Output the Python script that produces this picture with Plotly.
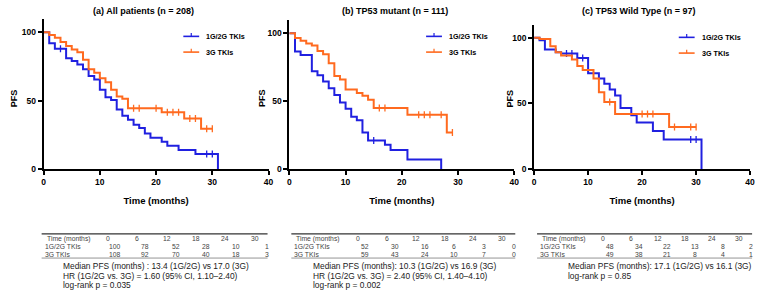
import numpy as np
import plotly.graph_objects as go

W, H = 767, 295

# ---------------- data ----------------
titles = ["(a) All patients (n = 208)", "(b) TP53 mutant (n = 111)", "(c) TP53 Wild Type (n = 97)"]
group_names = ["1G/2G TKIs", "3G TKIs"]

# Panel (a)
a_t_12 = [0, 1, 2, 4, 5, 6, 7, 8, 9, 10, 11, 12, 13, 14, 15, 16, 17, 18, 19, 21, 22, 24, 27, 31]
a_s_12 = [100, 92, 88, 81, 79, 76.5, 73, 68, 65.5, 58, 52.5, 50.5, 43.5, 39, 36, 32.5, 30, 26, 23, 20, 17, 14, 11, 0]
a_c_12 = [3, 29, 30]
a_t_3 = [0, 1, 2, 3, 4, 5, 6, 7, 8, 9, 10, 11, 12, 13, 14, 15, 21, 25, 28, 30]
a_s_3 = [100, 98, 96, 93, 90, 87.5, 85.5, 80, 73, 70.5, 66.5, 63.5, 58, 53, 51.5, 44.5, 41.5, 37, 29.5, 29.5]
a_c_3 = [16, 17, 20, 22, 23, 24, 26, 27, 29, 30]

# Panel (b)
b_t_12 = [0, 1, 2, 4, 5, 6, 7, 8, 9, 10, 11, 12, 13, 14, 17, 18, 21, 27]
b_s_12 = [100, 86.5, 84, 72, 69, 64.5, 59.5, 54.5, 49, 44.5, 38.5, 36, 27, 21, 18, 14, 7, 0]
b_c_12 = [15]
b_t_3 = [0, 1, 2, 3, 4, 5, 6, 7, 8, 9, 10, 12, 13, 14, 15, 21, 28, 29]
b_s_3 = [100, 96.5, 94.5, 92.5, 91, 87, 84.5, 78, 68.5, 66, 58.5, 56, 54, 51, 45, 40, 27, 27]
b_c_3 = [16, 17, 23, 24, 25, 27, 29]

# Panel (c)
c_t_12 = [0, 1, 2, 4, 5, 8, 10, 12, 13, 14, 15, 16, 18, 19, 22, 24, 31]
c_s_12 = [100, 98, 91, 89, 88, 84.5, 73, 69, 65, 60.5, 56, 46.5, 41, 35.5, 29, 22.5, 0]
c_c_12 = [6, 7, 9, 29, 30]
c_t_3 = [0, 1, 3, 4, 5, 7, 8, 9, 11, 12, 13, 15, 25, 30]
c_s_3 = [100, 99, 93.5, 89, 86.5, 83.5, 78.5, 75.5, 69, 58.5, 51, 42, 32, 32]
c_c_3 = [14, 20, 21, 22, 26, 29, 30]

# Numbers at risk
risk_times = [0, 6, 12, 18, 24, 30]
a_risk_12 = [100, 78, 52, 28, 10, 1]
a_risk_3 = [108, 92, 70, 40, 18, 3]
b_risk_12 = [52, 30, 16, 6, 3, 0]
b_risk_3 = [59, 43, 24, 10, 7, 0]
c_risk_12 = [48, 34, 22, 13, 8, 2]
c_risk_3 = [49, 38, 21, 8, 4, 1]

stats = [
    ["Median PFS (months) : 13.4 (1G/2G) vs 17.0 (3G)",
     "HR (1G/2G vs. 3G) = 1.60 (95% CI, 1.10\u20132.40)",
     "log-rank p = 0.035"],
    ["Median PFS (months): 10.3 (1G/2G) vs 16.9 (3G)",
     "HR (1G/2G vs. 3G) = 2.40 (95% CI, 1.40\u20134.10)",
     "log-rank p = 0.002"],
    ["Median PFS (months): 17.1 (1G/2G) vs 16.1 (3G)",
     "log-rank p = 0.85"],
]

x_ticks = [0, 10, 20, 30, 40]
y_ticks = [0, 50, 100]

# ---------------- styling ----------------
BLUE = "#2020e0"
ORANGE = "#ff6a1f"
colors = [BLUE, ORANGE]
FONT = "Liberation Sans, Arial, sans-serif"

panels = [
    dict(t=[a_t_12, a_t_3], s=[a_s_12, a_s_3], c=[a_c_12, a_c_3], risk=[a_risk_12, a_risk_3]),
    dict(t=[b_t_12, b_t_3], s=[b_s_12, b_s_3], c=[b_c_12, b_c_3], risk=[b_risk_12, b_risk_3]),
    dict(t=[c_t_12, c_t_3], s=[c_s_12, c_s_3], c=[c_c_12, c_c_3], risk=[c_risk_12, c_risk_3]),
]

# pixel geometry
geo = [
    dict(x0=42, x1=269, ytop=19, ybot=172, title_x=143, pfs_x=12, tl=40, tr=268, st_x=60, leg_x=183, leg_y=37),
    dict(x0=290, x1=517, ytop=20, ybot=172, title_x=397, pfs_x=263, tl=292, tr=518, st_x=312, leg_x=428, leg_y=37),
    dict(x0=537, x1=755, ytop=25, ybot=172, title_x=643, pfs_x=513, tl=540, tr=757, st_x=569, leg_x=683, leg_y=38),
]

def px(xp):
    return xp / W

def py(yp):
    return 1 - yp / H

def step_value(times, surv, t):
    idx = np.searchsorted(np.asarray(times), t, side="right") - 1
    return surv[idx]

fig = go.Figure()
annotations = []
shapes = []
layout = {}

def ann(text, x, y, xanchor="left", size=7, color="black", weight="normal", **kw):
    d = dict(text=text, x=px(x), y=py(y), xref="paper", yref="paper", showarrow=False,
             xanchor=xanchor, yanchor="middle",
             font=dict(family=FONT, size=size, color=color, weight=weight))
    d.update(kw)
    annotations.append(d)

for i, (p, g) in enumerate(zip(panels, geo)):
    k = "" if i == 0 else str(i + 1)
    xa, ya = "x" + k, "y" + k
    for j in range(2):
        fig.add_trace(go.Scatter(
            x=p["t"][j], y=p["s"][j], mode="lines", line=dict(color=colors[j], width=2, shape="hv"),
            xaxis=xa, yaxis=ya, showlegend=False, hoverinfo="skip"))
        cy = [step_value(p["t"][j], p["s"][j], ct) for ct in p["c"][j]]
        fig.add_trace(go.Scatter(
            x=p["c"][j], y=cy, mode="markers",
            marker=dict(symbol="line-ns", size=5, line=dict(color=colors[j], width=1.3)),
            xaxis=xa, yaxis=ya, showlegend=False, hoverinfo="skip"))

    layout["xaxis" + k] = dict(
        domain=[px(g["x0"]), px(g["x1"])], range=[0, 40], anchor=ya,
        tickvals=x_ticks, showline=True, linecolor="black", linewidth=2,
        ticks="outside", ticklen=4, tickwidth=2, tickcolor="black",
        showgrid=False, zeroline=False,
        tickfont=dict(family=FONT, size=8.5, color="black", weight="bold"),
        title=dict(text="Time (months)", font=dict(family=FONT, size=9.5, color="black", weight="bold"),
                   standoff=11),
        fixedrange=True)
    layout["yaxis" + k] = dict(
        domain=[py(g["ybot"]), py(g["ytop"])], range=[0, 110], anchor=xa,
        tickvals=y_ticks, showline=True, linecolor="black", linewidth=2,
        ticks="outside", ticklen=4, tickwidth=2, tickcolor="black",
        showgrid=False, zeroline=False,
        tickfont=dict(family=FONT, size=8.5, color="black", weight="bold"),
        fixedrange=True)

    # legend (key line with censor tick + label)
    for j in range(2):
        ly = g["leg_y"] + 16 * j
        lx = g["leg_x"]
        shapes.append(dict(type="line", xref="paper", yref="paper", x0=px(lx), x1=px(lx + 16),
                           y0=py(ly), y1=py(ly), line=dict(color=colors[j], width=1.6)))
        shapes.append(dict(type="line", xref="paper", yref="paper", x0=px(lx + 8), x1=px(lx + 8),
                           y0=py(ly), y1=py(ly - 3.5), line=dict(color=colors[j], width=1.2)))
        ann(group_names[j], lx + 21, ly, size=7.2, weight="bold")

    # title and y title
    ann(titles[i], g["title_x"], 11, xanchor="center", size=9, weight="bold")
    ann("PFS", g["pfs_x"], 100, xanchor="center", size=9, weight="bold", textangle=-90)

    # risk table
    tl, tr = g["tl"], g["tr"]
    y_line_top, y_head, y_r1, y_r2, y_line_bot = 238, 243, 251, 258.5, 262.5
    shapes.append(dict(type="line", xref="paper", yref="paper", x0=px(tl), x1=px(tr),
                       y0=py(y_line_top), y1=py(y_line_top), line=dict(color="#333333", width=1.2)))
    shapes.append(dict(type="line", xref="paper", yref="paper", x0=px(tl), x1=px(tr),
                       y0=py(y_line_bot), y1=py(y_line_bot), line=dict(color="#777777", width=0.8)))
    TC = "#444444"
    TS = 6.8
    ann("Time (months)", tl + 3, y_head, size=TS, color=TC)
    ann(group_names[0], tl + 1, y_r1, size=TS, color=TC)
    ann(group_names[1], tl + 1, y_r2, size=TS, color=TC)
    step = (tr - tl - 80) / 5.0
    for m, rt in enumerate(risk_times):
        ann(str(rt), tl + 67 + step * m, y_head, xanchor="center", size=TS, color=TC)
        for r, yy in zip(p["risk"], [y_r1, y_r2]):
            ann(str(r[m]), tl + 74 + (step + 1) * m, yy, xanchor="center", size=TS, color=TC)

    # stats
    for n, line in enumerate(stats[i]):
        ann(line, g["st_x"], 271 + 9.5 * n, size=8.4, color="#222222")

fig.update_layout(
    width=W, height=H, autosize=False,
    margin=dict(l=0, r=0, t=0, b=0),
    paper_bgcolor="white", plot_bgcolor="white",
    showlegend=False,
    annotations=annotations, shapes=shapes,
    **layout)

fig.write_html("out.html")
